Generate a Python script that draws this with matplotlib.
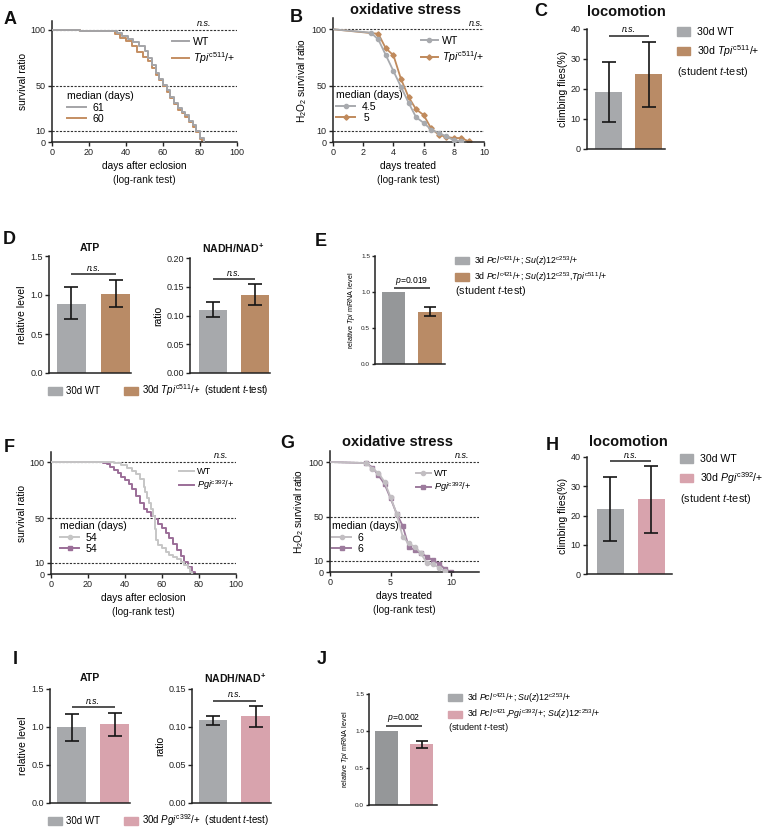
import numpy as np
import matplotlib
matplotlib.use("Agg")
from matplotlib import pyplot as plt
from matplotlib.lines import Line2D
from matplotlib.patches import Patch
from matplotlib.ticker import FormatStrFormatter

plt.rcParams['font.family'] = ['Liberation Sans', 'DejaVu Sans']
plt.rcParams['mathtext.fontset'] = 'custom'
plt.rcParams['mathtext.rm'] = 'Liberation Sans'
plt.rcParams['mathtext.it'] = 'Liberation Sans:italic'
plt.rcParams['mathtext.bf'] = 'Liberation Sans:bold'

W, H = 767, 832

# ---- values ----
# A: lifespan (Tpi)
a_wt_days = [0, 10, 15, 32, 35, 38, 41, 44, 47, 50, 52, 54, 56, 58, 60, 62, 64, 66, 68, 70, 72, 74, 76, 78, 80, 82]
a_wt_surv = [100, 100, 99, 99, 97, 95, 92, 89, 86, 81, 75, 69, 62, 56, 51, 46, 40, 35, 30, 27, 24, 19, 15, 10, 4, 0]
a_tpi_days = [0, 12, 15, 31, 34, 37, 40, 43, 46, 49, 52, 54, 56, 58, 60, 62, 64, 66, 68, 70, 72, 74, 76, 78, 80, 81]
a_tpi_surv = [100, 100, 99, 99, 96, 93, 90, 86, 80, 76, 72, 66, 60, 55, 50, 45, 39, 34, 29, 26, 22, 18, 13, 9, 3, 0]
a_medians = ['61', '60']

# B: H2O2 survival (Tpi)
b_wt_days = [0, 2.5, 3, 3.5, 4, 4.5, 5, 5.5, 6, 6.5, 7, 7.5, 8, 8.5]
b_wt_surv = [100, 97, 91, 77, 63, 49, 35, 22, 17, 11, 8, 5, 1.5, 0.5]
b_tpi_days = [0, 3, 3.5, 4, 4.5, 5, 5.5, 6, 6.5, 7, 7.5, 8, 8.5, 9]
b_tpi_surv = [100, 96, 83, 77, 56, 40, 29, 24, 12, 6.5, 4.5, 3.5, 3.5, 0.5]
b_medians = ['4.5', ' 5']

# C: climbing (Tpi)
c_mean = [18.9, 24.9]
c_lo = [8.9, 14.1]
c_hi = [28.9, 35.8]

# D: ATP / NADH (Tpi)
d_atp_mean = [0.885, 1.01]
d_atp_lo = [0.69, 0.84]
d_atp_hi = [1.10, 1.19]
d_nad_mean = [0.110, 0.136]
d_nad_lo = [0.097, 0.118]
d_nad_hi = [0.123, 0.155]

# E: Tpi mRNA
e_mean = [1.0, 0.726]
e_lo = [1.0, 0.67]
e_hi = [1.0, 0.79]

# F: lifespan (Pgi)
f_wt_days = [0, 30, 34, 38, 41, 44, 46, 48, 50, 51, 52, 53, 54, 55, 56, 57, 58, 60, 62, 64, 66, 68, 70, 72, 74, 75, 76]
f_wt_surv = [100, 100, 99, 97, 95, 92, 89, 85, 78, 73, 68, 63, 58, 52, 40, 30, 26, 23, 20, 17, 15, 13, 11, 8, 5, 2, 0]
f_pgi_days = [0, 26, 28, 30, 32, 34, 36, 38, 40, 42, 44, 46, 48, 50, 52, 54, 56, 58, 60, 62, 64, 66, 68, 70, 72, 74, 76, 78]
f_pgi_surv = [100, 100, 99, 98, 96, 93, 90, 87, 84, 80, 76, 70, 63, 58, 55, 52, 49, 45, 41, 37, 32, 27, 21, 16, 11, 6, 2, 0]
f_medians = ['54', '54']

# G: H2O2 survival (Pgi)
g_wt_days = [0, 3, 3.5, 4, 4.5, 5, 5.5, 6, 6.5, 7, 7.5, 8, 8.5, 9, 9.5]
g_wt_surv = [100, 99, 94, 90, 82, 68, 53, 32, 26, 23, 17, 8, 7, 4, 0.5]
g_pgi_days = [0, 3, 3.5, 4, 4.5, 5, 5.5, 6, 6.5, 7, 7.5, 8, 8.5, 9, 9.5, 10]
g_pgi_surv = [100, 99, 95, 88, 80, 67, 53, 42, 23, 20, 17, 14, 10.5, 7.5, 2.7, 0]
g_medians = ['6', '6']

# H: climbing (Pgi)
h_mean = [22.1, 25.5]
h_lo = [11.3, 14.1]
h_hi = [33.3, 36.9]

# I: ATP / NADH (Pgi)
i_atp_mean = [0.996, 1.04]
i_atp_lo = [0.82, 0.88]
i_atp_hi = [1.17, 1.19]
i_nad_mean = [0.109, 0.114]
i_nad_lo = [0.103, 0.0996]
i_nad_hi = [0.115, 0.128]

# J: Tpi mRNA (Pgi background)
j_mean = [1.0, 0.824]
j_lo = [1.0, 0.775]
j_hi = [1.0, 0.87]

dash_levels = [10, 50, 100]

TPI = r'$\mathit{Tpi}^{\mathrm{c511}}$/+'
PGI = r'$\mathit{Pgi}^{\mathrm{c392}}$/+'
STUDENT = r'(student $\mathit{t}$-test)'

GRAY = '#a7a9ac'
GRAY_DK = '#959799'
BROWN = '#b98b66'
PINK = '#d8a3ad'
INK = '#222222'

fig = plt.figure(figsize=(W / 100, H / 100), dpi=100)


def new_ax(l, t, r, b, tsize=6.5, tlen=3):
    ax = fig.add_axes([l / W, 1 - b / H, (r - l) / W, (b - t) / H])
    ax.patch.set_alpha(0)
    for s in ['top', 'right']:
        ax.spines[s].set_visible(False)
    for s in ['left', 'bottom']:
        ax.spines[s].set_linewidth(1.1)
        ax.spines[s].set_color(INK)
    ax.tick_params(length=tlen, width=1, labelsize=tsize, pad=1.5, colors=INK)
    return ax


def txt(x, y, s, size=7, **kw):
    kw.setdefault('ha', 'center')
    kw.setdefault('va', 'center')
    fig.text(x / W, 1 - y / H, s, fontsize=size, color='#111111', **kw)


def leg(ax, handles, labels, x, y, loc='upper left', **kw):
    return ax.legend(handles, labels, loc=loc, bbox_to_anchor=(x / W, 1 - y / H),
                     bbox_transform=fig.transFigure, frameon=False,
                     borderpad=0, borderaxespad=0, **kw)


def marker_size(mk):
    return 2.7 if mk == 'D' else 3.0


def survival(box, ytop, xmax, xticks, curves, glabel, ns_x, xlabel, ylabel,
             main_at, med_at, medians, main_mk, med_mk, leg_fs, med_fs):
    ax = new_ax(*box)
    for lev in dash_levels:
        ax.axhline(lev, color='#333333', lw=0.8, ls=(0, (2, 1.3)), zorder=0)
    # first curve (WT) kept on top, as in the original
    for k, (days, surv, col, mk, kind) in enumerate(curves):
        z = 3 - k
        if kind == 'step':
            ax.step(days, surv, where='post', color=col, lw=1.4, zorder=z)
        else:
            ax.plot(days, surv, color=col, lw=1.3, marker=mk, ms=marker_size(mk),
                    markevery=list(range(1, len(days))), zorder=z)
    ax.set_xlim(0, xmax)
    ax.set_ylim(0, ytop)
    ax.set_xticks(xticks)
    ax.set_yticks([0, 10, 50, 100])
    ax.text(ns_x, 101.5, 'n.s.', style='italic', ha='center', va='bottom', fontsize=6.5)
    ax.set_xlabel(xlabel, fontsize=7.3, labelpad=2.5)
    ax.set_ylabel(ylabel, fontsize=7.3, labelpad=2)
    h1 = [Line2D([], [], color=c[2], lw=1.4, marker=c[3] if main_mk else None,
                 ms=marker_size(c[3])) for c in curves]
    l1 = leg(ax, h1, ['WT', glabel], main_at[0], main_at[1], fontsize=leg_fs,
             handlelength=1.6, handletextpad=0.4, labelspacing=0.3)
    ax.add_artist(l1)
    h2 = [Line2D([], [], color=c[2], lw=1.4, marker=c[3] if med_mk else None,
                 ms=marker_size(c[3])) for c in curves]
    leg(ax, h2, medians, med_at[0], med_at[1], title='median (days)',
        title_fontsize=med_fs, alignment='left', fontsize=med_fs,
        handlelength=1.8, handletextpad=0.6, labelspacing=0.15)
    txt((box[0] + box[2]) / 2, box[3] + 38, '(log-rank test)', 7.3)
    return ax


def bars(box, xlim, width, mean, lo, hi, colors, ylim, yticks, fmt, br_h, br_txt,
         ylabel, ysize=7.5, tsize=6.5, cap=4.8, br_size=6.2, br_style='italic', lpad=2):
    ax = new_ax(*box, tsize=tsize, tlen=3 if tsize > 5 else 2)
    pos = np.arange(len(mean))
    ax.bar(pos, mean, width, color=colors, zorder=1)
    idx = [i for i in range(len(mean)) if hi[i] > lo[i]]
    m = np.array(mean)[idx]
    ax.errorbar(pos[idx], m, yerr=[m - np.array(lo)[idx], np.array(hi)[idx] - m],
                fmt='none', ecolor='#151515', elinewidth=1.2, capsize=cap,
                capthick=1.2, zorder=3)
    ax.plot(pos, [br_h, br_h], color=INK, lw=1.1, solid_capstyle='butt')
    ax.text(pos.mean(), br_h + (ylim[1] - ylim[0]) * 0.012, br_txt, ha='center',
            va='bottom', fontsize=br_size, style=br_style)
    ax.set_xlim(*xlim)
    ax.set_ylim(*ylim)
    ax.set_xticks([])
    ax.set_yticks(yticks)
    ax.yaxis.set_major_formatter(FormatStrFormatter(fmt))
    ax.set_ylabel(ylabel, fontsize=ysize, labelpad=lpad)
    return ax


# ---------------- row 1 ----------------
survival((52, 21, 237, 142), 108, 100, range(0, 101, 20),
         [(a_wt_days, a_wt_surv, '#a4a4a7', 'o', 'step'),
          (a_tpi_days, a_tpi_surv, '#c48e62', 'o', 'step')],
         TPI, 82, 'days after eclosion', 'survival ratio',
         (172, 37), (67, 91), a_medians, False, False, 7.6, 7.6)
txt(10, 19, 'A', 13, weight='bold')

survival((333, 18, 484, 142), 110, 10, range(0, 11, 2),
         [(b_wt_days, b_wt_surv, '#a8aaae', 'o', 'line'),
          (b_tpi_days, b_tpi_surv, '#c08a5c', 'D', 'line')],
         TPI, 9.5, 'days treated', r'H$_2$O$_2$ survival ratio',
         (421, 36), (336, 90), b_medians, True, True, 7.6, 7.6)
txt(296, 18, 'B', 13, weight='bold')
txt(405, 10, 'oxidative stress', 10.5, weight='bold')

ax = bars((587, 29, 665, 149), (-0.54, 1.41), 0.68, c_mean, c_lo, c_hi, [GRAY, BROWN],
          (0, 40), range(0, 41, 10), '%d', 37.7, 'n.s.', 'climbing flies(%)')
leg(ax, [Patch(color=GRAY), Patch(color=BROWN)], ['30d WT', '30d ' + TPI], 677, 27,
    fontsize=7.6, handlelength=1.25, handleheight=0.85, handletextpad=0.6, labelspacing=0.55)
txt(677, 72, STUDENT, 7.8, ha='left')
txt(541, 12, 'C', 13, weight='bold')
txt(626, 12, 'locomotion', 10.5, weight='bold')

# ---------------- row 2 ----------------
ax = bars((49, 256, 131, 373), (-0.51, 1.35), 0.66, d_atp_mean, d_atp_lo, d_atp_hi,
          [GRAY, BROWN], (0, 1.5), [0, 0.5, 1.0, 1.5], '%.1f', 1.27, 'n.s.', 'relative level')
leg(ax, [Patch(color=GRAY), Patch(color=BROWN)], ['30d WT', '30d ' + TPI + '  ' + STUDENT],
    48, 390, loc='center left', ncol=2, fontsize=7, handlelength=1.45, handleheight=0.9,
    handletextpad=0.45, columnspacing=2.4)
bars((190, 258, 270, 373), (-0.55, 1.35), 0.67, d_nad_mean, d_nad_lo, d_nad_hi,
     [GRAY, BROWN], (0, 0.2), [0, 0.05, 0.10, 0.15, 0.20], '%.2f', 0.163, 'n.s.', 'ratio')
txt(9, 239, 'D', 13, weight='bold')
txt(90, 248, 'ATP', 7.6, weight='bold')
txt(233, 248, r'NADH/NAD$^{\mathbf{+}}$', 7.6, weight='bold')

ax = bars((375, 256, 445, 364), (-0.51, 1.41), 0.64, e_mean, e_lo, e_hi, [GRAY_DK, BROWN],
          (0, 1.5), [0, 0.5, 1.0, 1.5], '%.1f', 1.05, r'$\mathit{p}$=0.019',
          r'relative $\mathit{Tpi}$ mRNA level', ysize=5.2, tsize=4.6, cap=4.5,
          br_size=6.2, br_style='normal', lpad=3)
leg(ax, [Patch(color=GRAY), Patch(color=BROWN)],
    [r'3d $\mathit{Pcl}^{\mathrm{c421}}$/+; $\mathit{Su(z)12}^{\mathrm{c253}}$/+',
     r'3d $\mathit{Pcl}^{\mathrm{c421}}$/+; $\mathit{Su(z)12}^{\mathrm{c253}}$,$\mathit{Tpi}^{\mathrm{c511}}$/+'],
    455, 254, fontsize=6.3, handlelength=1.55, handleheight=0.9, handletextpad=0.6,
    labelspacing=0.3)
txt(455, 291, STUDENT, 7.8, ha='left')
txt(321, 241, 'E', 13, weight='bold')

# ---------------- row 3 ----------------
survival((51, 452, 236, 574), 109, 100, range(0, 101, 20),
         [(f_wt_days, f_wt_surv, '#c6c6c6', 'o', 'step'),
          (f_pgi_days, f_pgi_surv, '#9b6e98', 's', 'step')],
         PGI, 92, 'days after eclosion', 'survival ratio',
         (179, 467), (60, 521), f_medians, False, True, 6.6, 7.6)
txt(9, 447, 'F', 13, weight='bold')

survival((330, 451, 479, 572), 110, 12.3, [0, 5, 10],
         [(g_wt_days, g_wt_surv, '#c2bec2', 'o', 'line'),
          (g_pgi_days, g_pgi_surv, '#9d7b9d', 's', 'line')],
         PGI, 10.9, 'days treated', r'H$_2$O$_2$ survival ratio',
         (416, 469), (332, 521), g_medians, True, True, 6.6, 7.6)
txt(287, 444, 'G', 13, weight='bold')
txt(397, 442, 'oxidative stress', 10.5, weight='bold')

ax = bars((587, 457, 672, 574), (-0.57, 1.5), 0.66, h_mean, h_lo, h_hi, [GRAY, PINK],
          (0, 40), range(0, 41, 10), '%d', 38.6, 'n.s.', 'climbing flies(%)')
leg(ax, [Patch(color=GRAY), Patch(color=PINK)], ['30d WT', '30d ' + PGI], 680, 454,
    fontsize=7.6, handlelength=1.25, handleheight=0.85, handletextpad=0.6, labelspacing=0.55)
txt(680, 499, STUDENT, 7.8, ha='left')
txt(552, 445, 'H', 13, weight='bold')
txt(628, 442, 'locomotion', 10.5, weight='bold')

# ---------------- row 4 ----------------
ax = bars((50, 689, 130, 803), (-0.5, 1.35), 0.67, i_atp_mean, i_atp_lo, i_atp_hi,
          [GRAY, PINK], (0, 1.5), [0, 0.5, 1.0, 1.5], '%.1f', 1.26, 'n.s.', 'relative level')
leg(ax, [Patch(color=GRAY), Patch(color=PINK)], ['30d WT', '30d ' + PGI + '  ' + STUDENT],
    48, 820, loc='center left', ncol=2, fontsize=7, handlelength=1.45, handleheight=0.9,
    handletextpad=0.45, columnspacing=2.4)
bars((192, 689, 271, 803), (-0.5, 1.36), 0.67, i_nad_mean, i_nad_lo, i_nad_hi,
     [GRAY, PINK], (0, 0.15), [0, 0.05, 0.10, 0.15], '%.2f', 0.1345, 'n.s.', 'ratio')
txt(15, 660, 'I', 13, weight='bold')
txt(90, 678, 'ATP', 7.6, weight='bold')
txt(235, 678, r'NADH/NAD$^{\mathbf{+}}$', 7.6, weight='bold')

ax = bars((369, 694, 437, 805), (-0.49, 1.43), 0.65, j_mean, j_lo, j_hi, [GRAY_DK, PINK],
          (0, 1.5), [0, 0.5, 1.0, 1.5], '%.1f', 1.07, r'$\mathit{p}$=0.002',
          r'relative $\mathit{Tpi}$ mRNA level', ysize=5.2, tsize=4.6, cap=4.5,
          br_size=6.2, br_style='normal', lpad=3)
leg(ax, [Patch(color=GRAY), Patch(color=PINK)],
    [r'3d $\mathit{Pcl}^{\mathrm{c421}}$/+; $\mathit{Su(z)12}^{\mathrm{c253}}$/+',
     r'3d $\mathit{Pcl}^{\mathrm{c421}}$,$\mathit{Pgi}^{\mathrm{c392}}$/+; $\mathit{Su(z)12}^{\mathrm{c253}}$/+'],
    448, 691, fontsize=6.3, handlelength=1.55, handleheight=0.9, handletextpad=0.6,
    labelspacing=0.35)
txt(448, 728, STUDENT, 6.7, ha='left')
txt(322, 659, 'J', 13, weight='bold')

fig.savefig('out.png', dpi=100)
